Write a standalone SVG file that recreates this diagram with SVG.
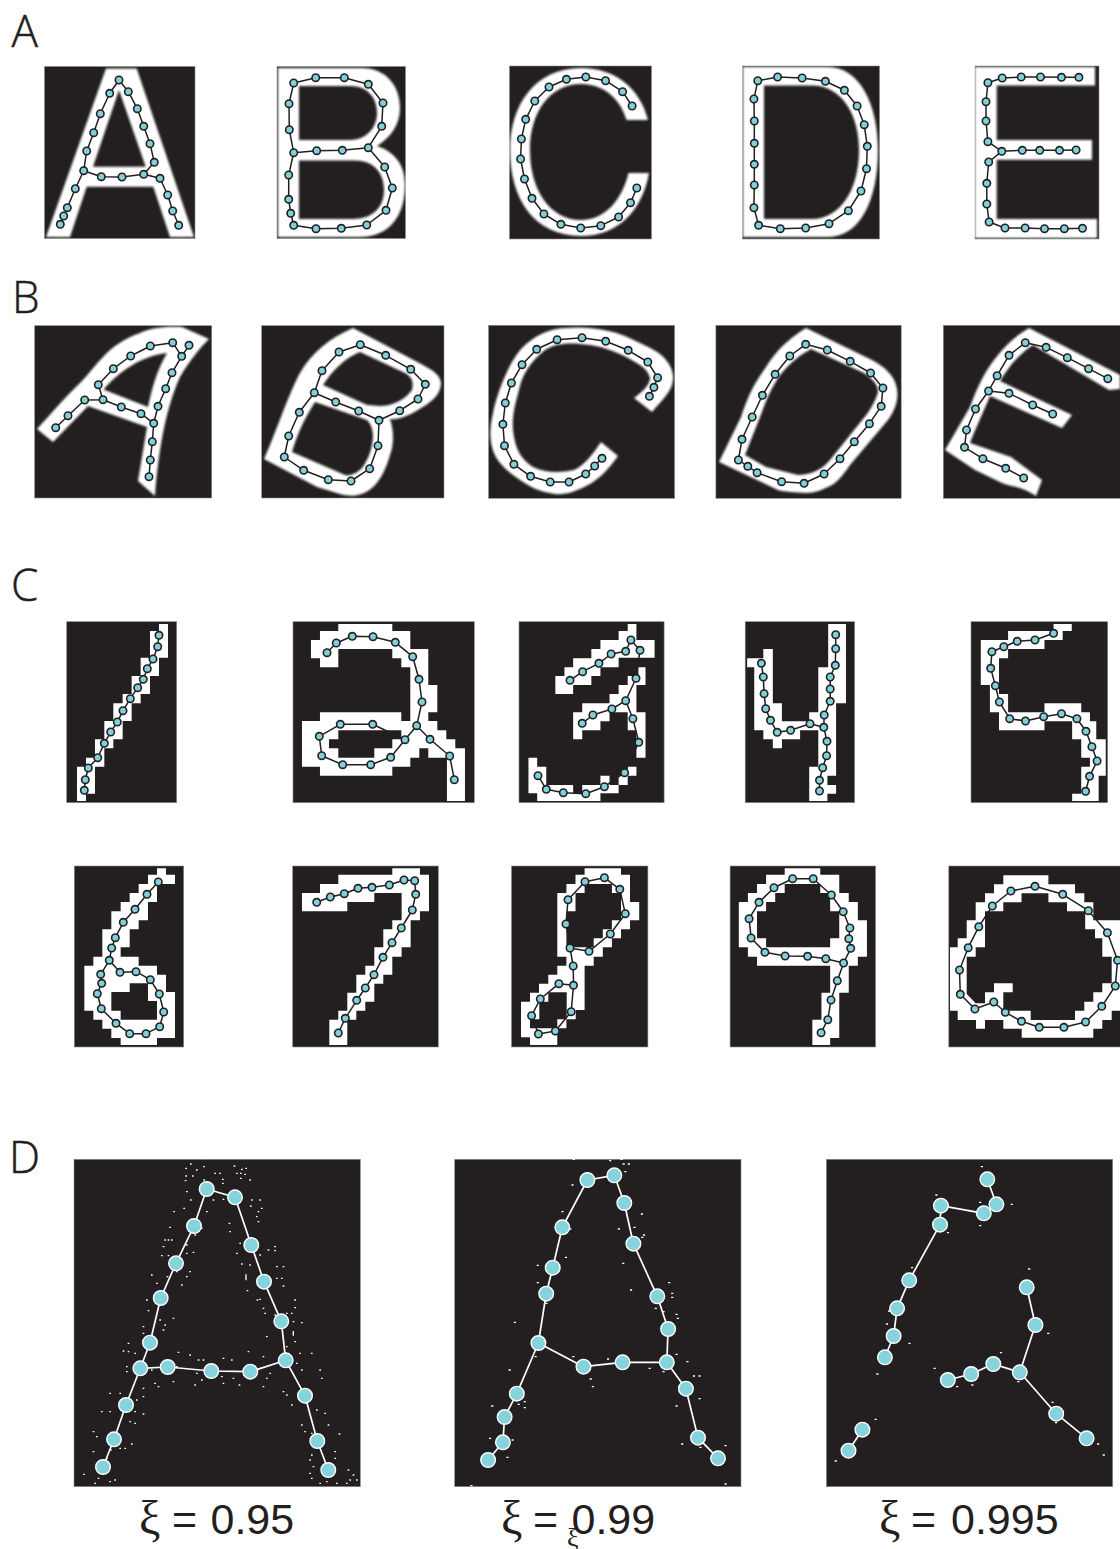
<svg xmlns="http://www.w3.org/2000/svg" width="1120" height="1549" viewBox="0 0 1120 1549">
<style>
.bg{fill:#231f20;stroke:#8a8a8a;stroke-width:.6}
.gl{fill:#fff;fill-rule:evenodd}
.soft{filter:url(#soft)}
.e{fill:none;stroke:#231f20;stroke-width:1.5;stroke-linejoin:round}
.ew{fill:none;stroke:#fff;stroke-width:1.7;stroke-linejoin:round}
.n{fill:#7fd0d8;stroke:#231f20;stroke-width:1.6;r:3.7px}
.m{fill:#85d3dc;stroke:#fff;stroke-width:1.4;r:7.3px}
.dots{fill:none;stroke:#fff;stroke-linecap:square}
.lab{font-family:"Open Sans","Liberation Sans",sans-serif;font-weight:300;font-size:44px;fill:#231f20;stroke:#231f20;stroke-width:.5}
.xi{font-family:"Liberation Sans",Arial,sans-serif;font-size:43px;fill:#231f20}
.gr{font-family:"Liberation Serif","Times New Roman",serif;font-size:48px}
.gs{font-family:"Liberation Serif","Times New Roman",serif;font-size:26px;fill:#231f20}
</style>
<defs><filter id="soft" x="-5%" y="-5%" width="110%" height="110%"><feGaussianBlur stdDeviation=".8"/></filter></defs>
<rect width="1120" height="1549" fill="#fff"/>

<g id="labels">
<text class="lab" x="11.5" y="47">A</text>
<text class="lab" x="12" y="313">B</text>
<text class="lab" x="11" y="601">C</text>
<text class="lab" x="9" y="1173">D</text>
<text class="xi"><tspan class="gr" x="139" y="1534">ξ</tspan><tspan x="172" y="1534">=</tspan><tspan x="210.5" y="1534">0.95</tspan></text>
<text class="xi"><tspan class="gr" x="501" y="1534">ξ</tspan><tspan x="533" y="1534">=</tspan><tspan x="571.5" y="1534">0.99</tspan></text>
<text class="gs" x="567" y="1546">ξ</text>
<text class="xi"><tspan class="gr" x="879" y="1534">ξ</tspan><tspan x="911" y="1534">=</tspan><tspan x="951" y="1534">0.995</tspan></text>
</g>

<g id="panels">
<g id="panel-a-a"><rect class="bg" x="44.5" y="66.5" width="150.5" height="172"/><path class="gl soft" d="M46,237 106,68.5 136.7,68.5 194,237 170,237 153.3,186.7 86.7,186.7 70,237ZM119,90 93,166.7 145.7,166.7Z"/></g>
<g id="panel-a-b"><rect class="bg" x="277" y="66.5" width="128.5" height="172"/><path class="gl soft" d="M278,68 H362 C385,68 400,85 400,108 C400,125 390,138 377,146 C395,152 405,165 405,185 C405,215 390,237 360,237 H278Z M299,86 H350 C368,86 377,98 377,113 C377,128 366,140 350,140 H299Z M299,160.5 H355 C373,160.5 384,172 384,190 C384,208 372,219 353,219 H299Z"/></g>
<g id="panel-a-c"><rect class="bg" x="509.5" y="66" width="142" height="173"/><path class="gl soft" d="M648,120 C640,88 615,68 581,68 C535,68 510,105 510,150 C510,200 535,236 581,236 C617,236 642,212 649,173 H628.5 C622,200 605,220 581,220 C550,220 530,190 530,150 C530,112 550,84 581,84 C603,84 620,98 626.5,120Z"/></g>
<g id="panel-a-d"><rect class="bg" x="742.5" y="66" width="137" height="173"/><path class="gl soft" d="M743,67 H828 C860,67 878,105 878,150 C878,200 860,237 828,237 H743Z M764,85.5 H812 C842,85.5 859,115 859,150 C859,190 840,219 812,219 H764Z"/></g>
<g id="panel-a-e"><rect class="bg" x="975" y="66" width="124" height="173"/><path class="gl soft" d="M975,67 H1095 V85.5 H996.7 V140 H1092 V159.7 H996.7 V219 H1097 V238 H975Z"/></g>

<g id="panel-b-a"><rect class="bg" x="34.7" y="325.7" width="177" height="172.3"/><path class="gl soft" d="M37,429 L53,442 L88,406 L147,427 L138,481 L155,496 C158,455 165,410 180,377 C190,360 200,348 209,339 L182,327 C165,326 150,328 140,333 C125,338 112,347 103,357 C95,365 88,375 80,383 C65,397 50,415 37,429Z M103.5,389.5 C118,373 140,356 167,353 C157,370 152,388 148,407Z"/></g>
<g id="panel-b-b"><rect class="bg" x="261.7" y="325.7" width="182.3" height="172.3"/><path class="gl soft" d="M264,459 C275,435 288,395 300,373 C312,352 330,338 353,328 L423,365 C432,370 441,375 441,384 C440,396 430,403 418,410 C408,416 398,420 390,419 C394,430 394,445 390,455 C386,470 378,485 368,491 C360,496 350,497 340,494 L317,487Z M323,385 C333,370 345,358 360,352 L405,373 C412,377 414,382 412,390 C405,400 392,406 380,406 L367,405Z M315,402 L367,420 C372,425 373,432 373,437 C372,450 368,460 362,468 C356,474 350,476 345,475 L292,452 C298,432 305,418 315,402Z"/></g>
<g id="panel-b-c"><rect class="bg" x="488.6" y="325.3" width="186" height="173"/><path class="gl soft" d="M601,442 L618,456 C608,470 598,480 588,485 C575,492 565,495 555,494 C540,492 530,487 520,480 C505,470 495,460 492,447 C488,430 492,420 494,408 C500,385 510,362 521,349 C535,335 548,329 565,328 C590,326 610,330 625,336 C640,343 652,348 660,354 C670,362 674,372 673,380 C672,392 660,402 652,412 L634,398 C642,392 650,385 650,378 C648,370 642,366 635,362 C620,353 605,347 590,345 C570,342 555,343 545,350 C530,362 522,375 519,390 C515,405 512,415 513,430 C515,450 522,460 533,467 C545,473 560,473 574,470 C585,465 592,455 601,442Z"/></g>
<g id="panel-b-d"><rect class="bg" x="715.9" y="325.3" width="185.3" height="173"/><path class="gl soft" d="M719,462 L741,417 C750,390 757,380 766,367 C780,345 795,335 806,328 L872,360 C885,367 893,375 896,385 C900,398 895,410 888,420 L850,465 C845,472 840,480 832,485 C822,490 815,493 806,493 C795,492 785,492 778,490Z M745,455 L762,412 C768,395 772,388 778,378 C788,364 800,355 811,349 L864,373 C874,380 878,385 878,392 C876,400 870,410 867,414 L830,460 C825,466 815,475 798,475 L766,467Z"/></g>
<g id="panel-b-e"><rect class="bg" x="943.3" y="325.3" width="177" height="173"/><path class="gl soft" d="M945,450 L970,407 C978,385 985,372 994,360 C1005,345 1017,335 1029,328 L1120,375 V389 L1109,390 L1033,345 C1025,350 1015,360 1011,365 C1006,372 1003,376 1000,381 L1072,415 L1062,428 L990,396 C982,415 975,430 970,443 L1011,457 L1042,480 L1036,496 C1020,485 1010,487 1002,483 L975,470Z"/></g>

<g id="panel-c-1"><rect class="bg" x="66.7" y="621.7" width="110" height="181"/><path class="gl" transform="translate(50 610) scale(.3333)" d="M327 42 354 42 354 143 327 143 327 198 300 198 300 252 272 252 272 280 245 280 245 333 218 333 218 388 190 388 190 415 163 415 163 470 135 470 135 551 108 551 108 573 81 573 81 470 108 470 108 443 135 443 135 388 163 388 163 333 190 333 190 280 218 280 218 252 245 252 245 198 272 198 272 143 300 143 300 63 327 63Z"/></g>
<g id="panel-c-2"><rect class="bg" x="293" y="621.7" width="181.3" height="181"/><path class="gl" transform="translate(50 610) scale(.3333)" d="M865 42 1027 42 1027 63 1081 63 1081 117 1135 117 1135 225 1162 225 1162 307 1135 307 1135 333 1162 333 1162 361 1189 361 1189 388 1216 388 1216 415 1245 415 1245 573 1191 573 1191 443 1135 443 1135 415 1108 415 1108 443 1081 443 1081 470 1027 470 1027 497 810 497 810 470 756 470 756 333 810 333 810 307 1054 307 1054 333 1081 333 1081 172 1054 172 1054 145 1027 145 1027 117 865 117 865 172 810 172 810 145 783 145 783 90 810 90 810 63 865 63Z M865 361 1054 361 1054 388 1027 388 1027 415 973 415 973 443 865 443 865 415 837 415 837 388 865 388Z"/></g>
<g id="panel-c-3"><rect class="bg" x="519" y="621.7" width="145.1" height="181"/><path class="gl" transform="translate(500 610) scale(.3954 .3333)" d="M323 42 345 42 345 90 391 90 391 143 300 143 300 172 254 172 254 198 231 198 231 225 185 225 185 252 140 252 140 198 163 198 163 172 185 172 185 145 231 145 231 117 254 117 254 90 300 90 300 63 323 63Z M350 172 368 172 368 225 345 225 345 307 368 307 368 443 345 443 345 361 323 361 323 307 277 307 277 334 254 334 254 361 208 361 208 388 185 388 185 307 208 307 208 280 277 280 277 252 300 252 300 225 323 225 323 198 350 198Z M72 443 94 443 94 470 117 470 117 525 185 525 185 550 208 550 208 525 254 525 254 497 277 497 277 525 300 525 300 497 323 497 323 470 345 470 345 497 323 497 323 525 300 525 300 550 254 550 254 573 94 573 94 550 72 550Z"/></g>
<g id="panel-c-4"><rect class="bg" x="745.2" y="621.7" width="109.5" height="181"/><path class="gl" transform="translate(500 610) scale(.3954 .3333)" d="M830 42 875 42 875 280 850 280 850 497 828 497 828 525 850 525 850 551 828 551 828 573 782 573 782 470 805 470 805 361 759 361 759 388 713 388 713 415 690 415 690 388 666 388 666 361 643 361 643 172 625 172 625 145 666 145 666 117 690 117 690 280 713 280 713 334 782 334 782 307 805 307 805 172 830 172Z"/></g>
<g id="panel-c-5"><rect class="bg" x="971" y="621.7" width="136.7" height="181"/><path class="gl" transform="translate(500 610) scale(.3954 .3333)" d="M1400 42 1446 42 1446 63 1423 63 1423 90 1377 90 1377 117 1285 117 1285 145 1262 145 1262 252 1285 252 1285 307 1377 307 1377 280 1470 280 1470 307 1492 307 1492 334 1508 334 1508 388 1532 388 1532 497 1514 497 1514 573 1447 573 1447 551 1470 551 1470 470 1492 470 1492 443 1470 443 1470 388 1447 388 1447 334 1377 334 1377 361 1262 361 1262 307 1239 307 1239 225 1216 225 1216 90 1285 90 1285 63 1400 63Z"/></g>

<g id="panel-c-6"><rect class="bg" x="74.3" y="866" width="109.4" height="181"/><path class="gl" transform="translate(60 855) scale(.3333)" d="M291 40 318 40 318 59 345 59 345 87 291 87 291 141 264 141 264 196 236 196 236 223 209 223 209 277 182 277 182 305 236 305 236 332 291 332 291 359 318 359 318 411 345 411 345 549 291 549 291 570 182 570 182 549 154 549 154 521 127 521 127 494 100 494 100 467 73 467 73 332 100 332 100 305 127 305 127 223 154 223 154 169 182 169 182 141 209 141 209 114 236 114 236 87 264 87 264 59 291 59Z M154 411 209 411 209 385 264 385 264 438 291 438 291 494 182 494 182 467 154 467Z"/></g>
<g id="panel-c-7"><rect class="bg" x="292.7" y="866" width="145.6" height="181"/><path class="gl" transform="translate(60 855) scale(.3333)" d="M997 40 1080 40 1080 59 1107 59 1107 169 1080 169 1080 196 1052 196 1052 277 1025 277 1025 305 997 305 997 359 970 359 970 386 943 386 943 440 916 440 916 467 889 467 889 494 862 494 862 570 808 570 808 494 835 494 835 467 862 467 862 413 889 413 889 359 916 359 916 332 943 332 943 277 970 277 970 223 997 223 997 196 1025 196 1025 114 943 114 943 141 862 141 862 169 726 169 726 114 780 114 780 87 835 87 835 59 997 59Z"/></g>
<g id="panel-c-8"><rect class="bg" x="511.5" y="866" width="136.4" height="181"/><path class="gl" d="M584.6 868.3H621V874.7H630V902H639.2V920.3H630V929.3H621V938.3H611.9V947.3H602.8V956.7H593.7V965.7H584.6V1010H575.7V1019.3H566.4V1028.3H557.3V1045H530V1037.3H521V1001.7H530V992.7H539V983.7H548.3V974.7H557.3V965.7H566.4V956.7H557.3V893H566.4V884H575.5V874.7H584.6Z M584.6 884H611.9V893H621V920.3H611.9V929.3H602.8V938.3H593.7V947.3H566.4V911.3H575.5V893H584.6Z M548.3 992.3H566.7V1019.3H557.3V1028.3H530V1019.3H539.3V1001.7H548.3Z"/></g>
<g id="panel-c-9"><rect class="bg" x="730.1" y="866" width="145.5" height="181"/><path class="gl" transform="translate(500 855) scale(.3954 .3333)" d="M720 40 810 40 810 59 858 59 858 114 882 114 882 141 905 141 905 196 928 196 928 305 905 305 905 332 882 332 882 413 858 413 858 549 835 549 835 570 790 570 790 494 813 494 813 413 835 413 835 332 650 332 650 305 627 305 627 277 604 277 604 141 627 141 627 114 650 114 650 87 673 87 673 59 720 59Z M696 114 720 114 720 87 810 87 810 114 835 114 835 169 858 169 858 250 835 250 835 277 673 277 673 250 650 250 650 169 673 169 673 141 696 141Z"/></g>
<g id="panel-c-10"><rect class="bg" x="948.8" y="866" width="172" height="181"/><path class="gl" d="M950 947.3H957.7V938.3H966.7V920.3H975.7V902.3H985V893.3H994V884.3H1003.3V875.3H1048.4V884.3H1075V893.3H1084.3V902.3H1093.3V920.3H1120V1010.7H1111.7V1020H1102.3V1028.7H1093.3V1037.7H1021.7V1028.7H1003.3V1020H985V1028.7H976V1020H957.7V1010.7H950Z M1021.5 893.3H1048.4V902.3H1067V911.3H1085.2V929.3H1095V938.3H1102.3V956.7H1111.7V983.3H1102.3V992.3H1093.3V1001.7H1084.3V1010.7H1075V1020H1030.7V1010.7H1003.3V992.3H1012.7V983.3H994V992.3H985V1003.3H975.7L966.7 994V956.7H975.7V947.3H985V911.3H1003.3V902.3H1021.5Z"/></g>

<g id="panel-d-1"><rect class="bg" x="74" y="1159.3" width="286.3" height="327.4"/>
<path class="dots" stroke-width="4" transform="translate(0 1140) scale(.3333)" d="M572 72h1M612 80h1M590 90h1M558 85h1M703 78h1M738 85h1M725 88h1M710 100h1M722 100h1M735 103h1M660 100h1M645 100h1M558 108h1M578 108h1M556 122h1M612 120h1M668 118h1M668 130h1M750 120h1M722 115h1M560 155h1M572 180h1M640 180h1M670 178h1M780 180h1M755 180h1M752 198h1M785 205h1M775 215h1M770 230h1M775 245h1M620 215h1M552 205h1M522 215h1M510 262h1M605 265h1M585 285h1M688 250h1M690 275h1M495 300h1M505 300h1M515 300h1M560 315h1M490 320h1M720 310h1M710 340h1M725 372h1M750 375h1M805 330h1M825 320h1M825 332h1M780 345h1M485 347h1M505 347h1M560 340h1M580 337h1M545 375h1M530 395h1M570 395h1M560 410h1M545 435h1M455 405h1M470 430h1M502 410h1M738 405v14M830 380h1M850 380h1M830 415h1M845 415h1M850 438h1M742 452h1M772 480h1M780 478h1M885 480h1M885 503h1M790 505h1M795 520h1M825 525h1M860 520h1M875 520h1M440 480h1M445 512h1M480 540h1M520 535h1M495 555h1M490 570h1M880 545h1M905 548h1M880 575v10M885 605h1M800 590h1M385 610h1M370 633h1M385 635h1M405 640h1M430 560h1M430 580h1M440 625h1M535 637h1M570 645h1M595 660h1M610 660h1M670 655h1M695 660h1M745 635h1M790 650h1M860 620h1M900 640h1M935 640h1M890 670h1M905 690h1M960 690h1M965 715h1M380 680h1M380 695h1M455 690h1M530 680h1M590 700h1M605 720h1M665 710h1M670 730h1M700 715h1M718 735h1M745 715h1M800 715h1M790 740h1M430 745h1M465 730h1M475 740h1M520 725h1M585 735h1M810 700h1M850 755h1M860 765h1M875 795h1M430 770h1M330 760h1M360 760h1M410 780h1M405 815h1M330 815h1M305 815h1M430 822h1M390 845h1M405 850h1M280 875h1M290 890h1M905 855h1M915 875h1M935 880h1M950 810h1M975 820h1M985 855h1M1018 882h1M360 925h1M395 912h1M375 925h1M332 930h1M280 935h1M320 955h1M935 945h1M930 960h1M1005 935h1M1005 955h1M940 980h1M930 1000h1M1045 990h1M1060 1005h1M1050 1020h1M1070 1020h1M1040 1030h1M980 1025h1M960 1030h1M935 1015h1M252 1003h1M295 1015h1M345 1020h1M285 1030h1M330 1025h1M1010 1030h1M608 56h1"/></g>
<g id="panel-d-2"><rect class="bg" x="454.7" y="1159.3" width="286.3" height="327.4"/>
<path class="dots" stroke-width="4" transform="translate(440 1140) scale(.4337 .3333)" d="M308 58h1M418 58h1M392 62h1M423 72h1M435 72h1M427 95h1M305 135h1M282 215h1M465 222h1M412 267h1M448 262h1M470 285h1M300 267h1M466 292h1M290 352h1M422 370h1M225 376h1M225 428h1M440 450h1M528 428h1M535 460h1M535 472h1M497 505h1M515 515h1M545 523h1M548 535h1M172 547h1M245 490h1M160 690h1M220 650h1M307 650h1M387 657h1M347 717h1M352 740h1M483 685h1M545 643h1M570 665h1M515 695h1M585 708h1M598 708h1M598 776h1M545 798h1M120 798h1M195 785h1M195 803h1M181 793h1M115 895h1M167 900h1M155 952h1M558 912h1M658 917h1M600 922h1M72 1037h1M658 1032h1"/></g>
<g id="panel-d-3"><rect class="bg" x="826.4" y="1159.3" width="286.3" height="327.4"/>
<path class="dots" stroke-width="4" transform="translate(440 1140) scale(.4337 .3333)" d="M1249 80h1M1144 165h1M1245 187h1M1318 193h1M1245 257h1M1171 278h1M1088 383h1M1358 387h1M1035 513h1M1030 552h1M1082 610h1M1402 580h1M1293 638h1M1140 685h1M1008 702h1M1192 740h1M1227 735h1M1333 725h1M1412 787h1M1420 848h1M1004 838h1M912 963h1M1517 912h1M1530 945h1"/></g>
</g>

<g id="connectors">
<polyline class="e" points="60.3,224.3 63.7,216 67.3,207.7 75.3,188.7 83.7,170.7 86.7,151 93.7,132.7 100.3,113.7 109.7,93.3 119,80 128.3,91.7 137.3,108.7 143.7,126.3 150,143.7 154.3,162.3 143.7,174.3"/>
<polyline class="e" points="83.7,170.7 101.3,176.7 122,177 143.7,174.3 160,178.3 167.7,195 172.7,211 178.7,225.3"/>
<polyline class="e" points="293.7,152.7 289.3,129.7 289,103.7 293.7,83 315.7,77.7 344.3,77.7 368.3,84.3 383,103 381.7,126.3 368.3,147.7 342.3,150.3 316.7,150.7 293.7,152.7 288.7,175 288.7,199.3 290.7,213.3 293.7,225.3 316,228.7 341.3,228.3 366.7,225 386,210.3 392.3,188 384.7,167 368.3,147.7"/>
<polyline class="e" points="632.1,106 622.6,91.7 605.6,80.7 585.8,77 566.4,79.3 549,87 534.8,101 525.7,119.3 521.4,139 520.6,159 524.5,179 532,198.3 543.9,214 560.9,224.3 580.7,228 600.8,225.7 618.6,217 630.5,202.7 636.8,188"/>
<polygon class="e" points="757.8,80.7 777.6,77 802.1,78 825.4,81.3 844.4,90.3 857.1,106 864.2,124.7 867.3,146.3 866.5,168.7 861,191 848.4,210.7 829,223.7 805.7,228 780.3,228.7 758.6,225.3 753.9,207.7 754.3,185 754.3,164.3 754.3,143.3 754.3,121 753.9,99"/>
<polyline class="e" points="1078.9,77.3 1061.5,77.3 1040.5,77 1021.2,77 1002.2,78 987.9,82.7 986,101.7 986,121 987.9,141.7 1001.8,151.3 1022.3,150.3 1039.7,150.3 1059.5,150.3 1076.1,150"/>
<polyline class="e" points="1001.8,151.3 988.7,162 986.8,183.3 986.8,204 989.1,222 1005,228 1025.1,228 1044.5,228.7 1064.3,228.7 1082.5,228.3"/>

<polyline class="e" points="55.7,427.7 68,415.7 84.7,400 103,399.7 98.3,384.7 113.3,368.7 130.7,356 150.3,346 172.7,342.7 181.7,356.3 172,372.7 165.7,388.7 158,406.3 153.7,423.3 152.3,441.7 150.3,460 149,476.7"/>
<polyline class="e" points="181.7,356.3 189,345.3"/>
<polyline class="e" points="103,399.7 121.3,407 141,413.7 153.7,423.3"/>
<polyline class="e" points="314.3,392.7 322,370.7 339,352 360.3,344.7 385.7,355.3 410.7,369.3 425.3,384.3 418,399 399.7,410.7 379,420.3 358.7,411 335.7,402 314.3,392.7 299.3,412.3 288.7,436 284.3,457 303.7,470.3 328.3,479.7 351,481 369.7,468.7 378,445.7 379,420.3"/>
<polyline class="e" points="602,458.3 594.7,466 585.7,474 569,482 550.2,482 530.6,476.3 513.9,464.3 504.5,445.7 502.9,424.3 505.3,403 511.4,383 522,364.7 536.7,349.3 557.1,339.7 582,337.7 605.7,341.3 628.2,350.3 647.8,362 657.6,377.7 653.9,387.3 649.4,396.3"/>
<polygon class="e" points="738.4,460 747.8,466.3 757.1,472.7 781.6,481.7 804.1,483.3 824.1,474 840,458.7 854.3,441.7 869.4,423.7 881.2,406.3 882.9,388 870.6,373 850.2,361.3 827.3,350 805.7,344.3 789.8,356 775.1,374.3 762.4,395.3 752.2,417 742,439.3"/>
<polyline class="e" points="1107.8,378.7 1088.6,368.7 1067.3,357.7 1046.1,347.3 1025.3,342.7 1009,355.3 997.1,375.7 988.6,391 975.5,409 966.5,430 964.5,447.3 982.9,458.7 1005.7,468.3 1023.7,478"/>
<polyline class="e" points="988.6,391 1009,393.3 1032.7,405 1052.7,414"/>

<polyline class="e" points="159,635.3 157.7,646.7 153,659 147.3,668.7 143.3,679.3 137.7,687.7 130.3,698.7 123,710.7 117.3,722 110.7,732 104.3,743.3 97.7,757.7 88.3,768 85.3,779.7 84.3,790.3"/>
<polyline class="e" points="327,652.7 336.3,643 352.3,636.3 373,636.7 395.3,642.3 412.7,656.7 419,679.3 422,702 416.7,725.7 405,739.7 390.7,757.3 370.7,764.7 342.7,764.7 321.7,755.7 319.3,736.3 340.3,724.3 372.7,724.3 405,739.7"/>
<polyline class="e" points="416.7,725.7 430,739.3 449.7,756 454.3,779.7"/>
<polyline class="e" points="570,680.3 582.6,671.7 598.9,663.3 611.1,654 625.7,651.3 630.9,640 640,650.3 636,678.3 625.7,700.7 611.9,709 592.9,715 582.2,723.3"/>
<polyline class="e" points="625.7,700.7 632.9,718.7 638.8,742.3 624.6,772.7 604.4,786.7 585.8,793.7 563.3,792.7 546.3,789.3 538,775.7"/>
<polyline class="e" points="835.7,634.7 835.7,648.7 835.3,665.3 830.2,677 830.2,689 830.2,701.3 824.2,715 823.8,727.3 827,741.3 826.6,755.7 822.7,767.7 819.5,780.3 819.5,791"/>
<polyline class="e" points="823.8,727.3 810,723.7 790.6,730.3 777.2,732.3 770.5,720.3 765.7,708.7 764.1,693.7 763.3,677 761.4,663.3"/>
<polyline class="e" points="1053.6,633.3 1035,640 1017.2,641.3 1003.8,646.7 991.9,651.7 990.7,668.3 995.4,685.7 999.4,702 1009.7,718.7 1025.5,721 1043.7,716.7 1061.5,713.7 1076.9,718.7 1086,731.3 1091.9,746.7 1097.1,761 1089.6,776.3 1085.6,791.3"/>

<polyline class="e" points="158.3,882 147,894.3 135,909.3 123.3,922.3 115.3,937.7 111.7,948 109.3,960.3 100.7,974.3 101.7,983.3 97.3,993.7 101.3,1008.7 116,1023.3 129.7,1033.7 146,1033.7 159.7,1026.7 163.7,1012 159.3,994 150.3,979.7 136,971.7 120,972.3 109.3,960.3"/>
<polyline class="e" points="316.7,902.3 330.3,897 344.3,893.7 358,888.3 372,887.3 389.3,885 404,880 414.7,880.7 415.7,894.3 412.3,910 401.3,928 392,942.7 383,957.3 374,974.7 365.3,988 356.7,1000.3 345.3,1018.3 338.3,1033"/>
<polyline class="e" points="570,948 573.2,966 573.5,985.3 571.2,1011.7 555.4,1031 538.4,1034 531.6,1015.7 540.3,999 558.9,983.7 573.5,985.3"/>
<polygon class="e" points="570,948 589,951.3 610.3,934 625.3,913.7 619.8,889.3 604.4,877.7 585,881.7 568,899.7 566,924"/>
<polyline class="e" points="821.1,1032.7 827.8,1019.7 831,1000 837.3,980.7 843.6,963 850.7,948.3 848.8,938.7 849.9,928 843.2,911.7 831.4,895 813.2,878.7 792.6,878.7 774,887.7 759,902.3 749.1,918.7 751.1,938 764.9,952.3 785.1,956 807.6,956.3 825.8,958.7 843.6,963"/>
<polygon class="e" points="974.9,1009 960.3,994.3 959.5,970 968.2,947.7 978.8,926.7 992.3,906 1010.9,891 1035,886.3 1062.7,894.3 1088.4,910.7 1107.4,932.7 1117.6,960.3 1115.3,986 1101.8,1006.3 1085.6,1022 1063.9,1027.3 1039.3,1027.3 1021.5,1021.3 1005.3,1012.3 993.8,1002"/>

<polyline class="ew" points="103,1467 114,1439.3 126,1405 140.3,1368.3 150,1342.7 160.7,1298 176,1263.3 194,1226 206.7,1189 235,1197.3 251.3,1245 264,1281.7 281.3,1321.3 285.7,1360.3 305,1395.7 317.3,1441 328.3,1470"/>
<polyline class="ew" points="140.3,1368.3 167.7,1367 211.3,1371 250.3,1371.7 285.7,1360.3"/>
<polyline class="ew" points="488.1,1460 502.9,1442.3 504.6,1417 516.8,1393.7 538.4,1343 546.2,1293.7 552.7,1267.7 562.3,1227.3 587.4,1180 614.3,1175.3 624.3,1203 633.4,1243.7 657.3,1296.3 668.1,1329 666.8,1362.3 685.9,1388.7 698,1437.7 718,1458.3"/>
<polyline class="ew" points="538.4,1343 583.5,1366.7 622.6,1362.3 666.8,1362.3"/>
<polyline class="ew" points="987.3,1179.3 996.4,1204.3 983.8,1213.3 940.9,1205.7 940,1224.7 909.2,1280.3 897.1,1308.3 893.6,1336 884.9,1357.3"/>
<polyline class="ew" points="1026.7,1287.3 1035.4,1325 1019.8,1372.3 1056.2,1413.7 1086.6,1438.3"/>
<polyline class="ew" points="1019.8,1372.3 993.3,1364 971.2,1374 947.8,1380"/>
<polyline class="ew" points="862.4,1429.7 848.5,1450.7"/>
</g>

<g id="nodes">
<g id="nodes-a-a"><circle class="n" cx="60.3" cy="224.3"/><circle class="n" cx="63.7" cy="216"/><circle class="n" cx="67.3" cy="207.7"/><circle class="n" cx="75.3" cy="188.7"/><circle class="n" cx="83.7" cy="170.7"/><circle class="n" cx="86.7" cy="151"/><circle class="n" cx="93.7" cy="132.7"/><circle class="n" cx="100.3" cy="113.7"/><circle class="n" cx="109.7" cy="93.3"/><circle class="n" cx="119" cy="80"/><circle class="n" cx="128.3" cy="91.7"/><circle class="n" cx="137.3" cy="108.7"/><circle class="n" cx="143.7" cy="126.3"/><circle class="n" cx="150" cy="143.7"/><circle class="n" cx="154.3" cy="162.3"/><circle class="n" cx="143.7" cy="174.3"/><circle class="n" cx="122" cy="177"/><circle class="n" cx="101.3" cy="176.7"/><circle class="n" cx="160" cy="178.3"/><circle class="n" cx="167.7" cy="195"/><circle class="n" cx="172.7" cy="211"/><circle class="n" cx="178.7" cy="225.3"/></g>
<g id="nodes-a-b"><circle class="n" cx="293.7" cy="83"/><circle class="n" cx="315.7" cy="77.7"/><circle class="n" cx="344.3" cy="77.7"/><circle class="n" cx="368.3" cy="84.3"/><circle class="n" cx="383" cy="103"/><circle class="n" cx="381.7" cy="126.3"/><circle class="n" cx="368.3" cy="147.7"/><circle class="n" cx="342.3" cy="150.3"/><circle class="n" cx="316.7" cy="150.7"/><circle class="n" cx="293.7" cy="152.7"/><circle class="n" cx="289" cy="103.7"/><circle class="n" cx="289.3" cy="129.7"/><circle class="n" cx="288.7" cy="175"/><circle class="n" cx="288.7" cy="199.3"/><circle class="n" cx="290.7" cy="213.3"/><circle class="n" cx="293.7" cy="225.3"/><circle class="n" cx="316" cy="228.7"/><circle class="n" cx="341.3" cy="228.3"/><circle class="n" cx="366.7" cy="225"/><circle class="n" cx="386" cy="210.3"/><circle class="n" cx="392.3" cy="188"/><circle class="n" cx="384.7" cy="167"/></g>
<g id="nodes-a-c"><circle class="n" cx="632.1" cy="106"/><circle class="n" cx="622.6" cy="91.7"/><circle class="n" cx="605.6" cy="80.7"/><circle class="n" cx="585.8" cy="77"/><circle class="n" cx="566.4" cy="79.3"/><circle class="n" cx="549" cy="87"/><circle class="n" cx="534.8" cy="101"/><circle class="n" cx="525.7" cy="119.3"/><circle class="n" cx="521.4" cy="139"/><circle class="n" cx="520.6" cy="159"/><circle class="n" cx="524.5" cy="179"/><circle class="n" cx="532" cy="198.3"/><circle class="n" cx="543.9" cy="214"/><circle class="n" cx="560.9" cy="224.3"/><circle class="n" cx="580.7" cy="228"/><circle class="n" cx="600.8" cy="225.7"/><circle class="n" cx="618.6" cy="217"/><circle class="n" cx="630.5" cy="202.7"/><circle class="n" cx="636.8" cy="188"/></g>
<g id="nodes-a-d"><circle class="n" cx="757.8" cy="80.7"/><circle class="n" cx="777.6" cy="77"/><circle class="n" cx="802.1" cy="78"/><circle class="n" cx="825.4" cy="81.3"/><circle class="n" cx="844.4" cy="90.3"/><circle class="n" cx="857.1" cy="106"/><circle class="n" cx="864.2" cy="124.7"/><circle class="n" cx="867.3" cy="146.3"/><circle class="n" cx="866.5" cy="168.7"/><circle class="n" cx="861" cy="191"/><circle class="n" cx="848.4" cy="210.7"/><circle class="n" cx="829" cy="223.7"/><circle class="n" cx="805.7" cy="228"/><circle class="n" cx="780.3" cy="228.7"/><circle class="n" cx="758.6" cy="225.3"/><circle class="n" cx="753.9" cy="207.7"/><circle class="n" cx="754.3" cy="185"/><circle class="n" cx="754.3" cy="164.3"/><circle class="n" cx="754.3" cy="143.3"/><circle class="n" cx="754.3" cy="121"/><circle class="n" cx="753.9" cy="99"/></g>
<g id="nodes-a-e"><circle class="n" cx="1078.9" cy="77.3"/><circle class="n" cx="1061.5" cy="77.3"/><circle class="n" cx="1040.5" cy="77"/><circle class="n" cx="1021.2" cy="77"/><circle class="n" cx="1002.2" cy="78"/><circle class="n" cx="987.9" cy="82.7"/><circle class="n" cx="986" cy="101.7"/><circle class="n" cx="986" cy="121"/><circle class="n" cx="987.9" cy="141.7"/><circle class="n" cx="1001.8" cy="151.3"/><circle class="n" cx="1022.3" cy="150.3"/><circle class="n" cx="1039.7" cy="150.3"/><circle class="n" cx="1059.5" cy="150.3"/><circle class="n" cx="1076.1" cy="150"/><circle class="n" cx="988.7" cy="162"/><circle class="n" cx="986.8" cy="183.3"/><circle class="n" cx="986.8" cy="204"/><circle class="n" cx="989.1" cy="222"/><circle class="n" cx="1005" cy="228"/><circle class="n" cx="1025.1" cy="228"/><circle class="n" cx="1044.5" cy="228.7"/><circle class="n" cx="1064.3" cy="228.7"/><circle class="n" cx="1082.5" cy="228.3"/></g>

<g id="nodes-b-a"><circle class="n" cx="55.7" cy="427.7"/><circle class="n" cx="68" cy="415.7"/><circle class="n" cx="84.7" cy="400"/><circle class="n" cx="103" cy="399.7"/><circle class="n" cx="98.3" cy="384.7"/><circle class="n" cx="113.3" cy="368.7"/><circle class="n" cx="130.7" cy="356"/><circle class="n" cx="150.3" cy="346"/><circle class="n" cx="172.7" cy="342.7"/><circle class="n" cx="181.7" cy="356.3"/><circle class="n" cx="189" cy="345.3"/><circle class="n" cx="172" cy="372.7"/><circle class="n" cx="165.7" cy="388.7"/><circle class="n" cx="158" cy="406.3"/><circle class="n" cx="153.7" cy="423.3"/><circle class="n" cx="141" cy="413.7"/><circle class="n" cx="121.3" cy="407"/><circle class="n" cx="152.3" cy="441.7"/><circle class="n" cx="150.3" cy="460"/><circle class="n" cx="149" cy="476.7"/></g>
<g id="nodes-b-b"><circle class="n" cx="284.3" cy="457"/><circle class="n" cx="288.7" cy="436"/><circle class="n" cx="299.3" cy="412.3"/><circle class="n" cx="314.3" cy="392.7"/><circle class="n" cx="322" cy="370.7"/><circle class="n" cx="339" cy="352"/><circle class="n" cx="360.3" cy="344.7"/><circle class="n" cx="385.7" cy="355.3"/><circle class="n" cx="410.7" cy="369.3"/><circle class="n" cx="425.3" cy="384.3"/><circle class="n" cx="418" cy="399"/><circle class="n" cx="399.7" cy="410.7"/><circle class="n" cx="379" cy="420.3"/><circle class="n" cx="358.7" cy="411"/><circle class="n" cx="335.7" cy="402"/><circle class="n" cx="378" cy="445.7"/><circle class="n" cx="369.7" cy="468.7"/><circle class="n" cx="351" cy="481"/><circle class="n" cx="328.3" cy="479.7"/><circle class="n" cx="303.7" cy="470.3"/></g>
<g id="nodes-b-c"><circle class="n" cx="602" cy="458.3"/><circle class="n" cx="594.7" cy="466"/><circle class="n" cx="585.7" cy="474"/><circle class="n" cx="569" cy="482"/><circle class="n" cx="550.2" cy="482"/><circle class="n" cx="530.6" cy="476.3"/><circle class="n" cx="513.9" cy="464.3"/><circle class="n" cx="504.5" cy="445.7"/><circle class="n" cx="502.9" cy="424.3"/><circle class="n" cx="505.3" cy="403"/><circle class="n" cx="511.4" cy="383"/><circle class="n" cx="522" cy="364.7"/><circle class="n" cx="536.7" cy="349.3"/><circle class="n" cx="557.1" cy="339.7"/><circle class="n" cx="582" cy="337.7"/><circle class="n" cx="605.7" cy="341.3"/><circle class="n" cx="628.2" cy="350.3"/><circle class="n" cx="647.8" cy="362"/><circle class="n" cx="657.6" cy="377.7"/><circle class="n" cx="653.9" cy="387.3"/><circle class="n" cx="649.4" cy="396.3"/></g>
<g id="nodes-b-d"><circle class="n" cx="738.4" cy="460"/><circle class="n" cx="747.8" cy="466.3"/><circle class="n" cx="757.1" cy="472.7"/><circle class="n" cx="781.6" cy="481.7"/><circle class="n" cx="804.1" cy="483.3"/><circle class="n" cx="824.1" cy="474"/><circle class="n" cx="840" cy="458.7"/><circle class="n" cx="854.3" cy="441.7"/><circle class="n" cx="869.4" cy="423.7"/><circle class="n" cx="881.2" cy="406.3"/><circle class="n" cx="882.9" cy="388"/><circle class="n" cx="870.6" cy="373"/><circle class="n" cx="850.2" cy="361.3"/><circle class="n" cx="827.3" cy="350"/><circle class="n" cx="805.7" cy="344.3"/><circle class="n" cx="789.8" cy="356"/><circle class="n" cx="775.1" cy="374.3"/><circle class="n" cx="762.4" cy="395.3"/><circle class="n" cx="752.2" cy="417"/><circle class="n" cx="742" cy="439.3"/></g>
<g id="nodes-b-e"><circle class="n" cx="1107.8" cy="378.7"/><circle class="n" cx="1088.6" cy="368.7"/><circle class="n" cx="1067.3" cy="357.7"/><circle class="n" cx="1046.1" cy="347.3"/><circle class="n" cx="1025.3" cy="342.7"/><circle class="n" cx="1009" cy="355.3"/><circle class="n" cx="997.1" cy="375.7"/><circle class="n" cx="988.6" cy="391"/><circle class="n" cx="1009" cy="393.3"/><circle class="n" cx="1032.7" cy="405"/><circle class="n" cx="1052.7" cy="414"/><circle class="n" cx="975.5" cy="409"/><circle class="n" cx="966.5" cy="430"/><circle class="n" cx="964.5" cy="447.3"/><circle class="n" cx="982.9" cy="458.7"/><circle class="n" cx="1005.7" cy="468.3"/><circle class="n" cx="1023.7" cy="478"/></g>

<g id="nodes-c-1"><circle class="n" cx="159" cy="635.3"/><circle class="n" cx="157.7" cy="646.7"/><circle class="n" cx="153" cy="659"/><circle class="n" cx="147.3" cy="668.7"/><circle class="n" cx="143.3" cy="679.3"/><circle class="n" cx="137.7" cy="687.7"/><circle class="n" cx="130.3" cy="698.7"/><circle class="n" cx="123" cy="710.7"/><circle class="n" cx="117.3" cy="722"/><circle class="n" cx="110.7" cy="732"/><circle class="n" cx="104.3" cy="743.3"/><circle class="n" cx="97.7" cy="757.7"/><circle class="n" cx="88.3" cy="768"/><circle class="n" cx="85.3" cy="779.7"/><circle class="n" cx="84.3" cy="790.3"/></g>
<g id="nodes-c-2"><circle class="n" cx="327" cy="652.7"/><circle class="n" cx="336.3" cy="643"/><circle class="n" cx="352.3" cy="636.3"/><circle class="n" cx="373" cy="636.7"/><circle class="n" cx="395.3" cy="642.3"/><circle class="n" cx="412.7" cy="656.7"/><circle class="n" cx="419" cy="679.3"/><circle class="n" cx="422" cy="702"/><circle class="n" cx="416.7" cy="725.7"/><circle class="n" cx="405" cy="739.7"/><circle class="n" cx="390.7" cy="757.3"/><circle class="n" cx="370.7" cy="764.7"/><circle class="n" cx="342.7" cy="764.7"/><circle class="n" cx="321.7" cy="755.7"/><circle class="n" cx="319.3" cy="736.3"/><circle class="n" cx="340.3" cy="724.3"/><circle class="n" cx="372.7" cy="724.3"/><circle class="n" cx="430" cy="739.3"/><circle class="n" cx="449.7" cy="756"/><circle class="n" cx="454.3" cy="779.7"/></g>
<g id="nodes-c-3"><circle class="n" cx="570" cy="680.3"/><circle class="n" cx="582.6" cy="671.7"/><circle class="n" cx="598.9" cy="663.3"/><circle class="n" cx="611.1" cy="654"/><circle class="n" cx="625.7" cy="651.3"/><circle class="n" cx="630.9" cy="640"/><circle class="n" cx="640" cy="650.3"/><circle class="n" cx="636" cy="678.3"/><circle class="n" cx="625.7" cy="700.7"/><circle class="n" cx="611.9" cy="709"/><circle class="n" cx="592.9" cy="715"/><circle class="n" cx="582.2" cy="723.3"/><circle class="n" cx="632.9" cy="718.7"/><circle class="n" cx="638.8" cy="742.3"/><circle class="n" cx="624.6" cy="772.7"/><circle class="n" cx="604.4" cy="786.7"/><circle class="n" cx="585.8" cy="793.7"/><circle class="n" cx="563.3" cy="792.7"/><circle class="n" cx="546.3" cy="789.3"/><circle class="n" cx="538" cy="775.7"/></g>
<g id="nodes-c-4"><circle class="n" cx="835.7" cy="634.7"/><circle class="n" cx="835.7" cy="648.7"/><circle class="n" cx="835.3" cy="665.3"/><circle class="n" cx="830.2" cy="677"/><circle class="n" cx="830.2" cy="689"/><circle class="n" cx="830.2" cy="701.3"/><circle class="n" cx="824.2" cy="715"/><circle class="n" cx="823.8" cy="727.3"/><circle class="n" cx="810" cy="723.7"/><circle class="n" cx="790.6" cy="730.3"/><circle class="n" cx="777.2" cy="732.3"/><circle class="n" cx="770.5" cy="720.3"/><circle class="n" cx="765.7" cy="708.7"/><circle class="n" cx="764.1" cy="693.7"/><circle class="n" cx="763.3" cy="677"/><circle class="n" cx="761.4" cy="663.3"/><circle class="n" cx="827" cy="741.3"/><circle class="n" cx="826.6" cy="755.7"/><circle class="n" cx="822.7" cy="767.7"/><circle class="n" cx="819.5" cy="780.3"/><circle class="n" cx="819.5" cy="791"/></g>
<g id="nodes-c-5"><circle class="n" cx="1053.6" cy="633.3"/><circle class="n" cx="1035" cy="640"/><circle class="n" cx="1017.2" cy="641.3"/><circle class="n" cx="1003.8" cy="646.7"/><circle class="n" cx="991.9" cy="651.7"/><circle class="n" cx="990.7" cy="668.3"/><circle class="n" cx="995.4" cy="685.7"/><circle class="n" cx="999.4" cy="702"/><circle class="n" cx="1009.7" cy="718.7"/><circle class="n" cx="1025.5" cy="721"/><circle class="n" cx="1043.7" cy="716.7"/><circle class="n" cx="1061.5" cy="713.7"/><circle class="n" cx="1076.9" cy="718.7"/><circle class="n" cx="1086" cy="731.3"/><circle class="n" cx="1091.9" cy="746.7"/><circle class="n" cx="1097.1" cy="761"/><circle class="n" cx="1089.6" cy="776.3"/><circle class="n" cx="1085.6" cy="791.3"/></g>
<g id="nodes-c-6"><circle class="n" cx="158.3" cy="882"/><circle class="n" cx="147" cy="894.3"/><circle class="n" cx="135" cy="909.3"/><circle class="n" cx="123.3" cy="922.3"/><circle class="n" cx="115.3" cy="937.7"/><circle class="n" cx="111.7" cy="948"/><circle class="n" cx="109.3" cy="960.3"/><circle class="n" cx="100.7" cy="974.3"/><circle class="n" cx="101.7" cy="983.3"/><circle class="n" cx="97.3" cy="993.7"/><circle class="n" cx="101.3" cy="1008.7"/><circle class="n" cx="116" cy="1023.3"/><circle class="n" cx="129.7" cy="1033.7"/><circle class="n" cx="146" cy="1033.7"/><circle class="n" cx="159.7" cy="1026.7"/><circle class="n" cx="163.7" cy="1012"/><circle class="n" cx="159.3" cy="994"/><circle class="n" cx="150.3" cy="979.7"/><circle class="n" cx="136" cy="971.7"/><circle class="n" cx="120" cy="972.3"/></g>
<g id="nodes-c-7"><circle class="n" cx="316.7" cy="902.3"/><circle class="n" cx="330.3" cy="897"/><circle class="n" cx="344.3" cy="893.7"/><circle class="n" cx="358" cy="888.3"/><circle class="n" cx="372" cy="887.3"/><circle class="n" cx="389.3" cy="885"/><circle class="n" cx="404" cy="880"/><circle class="n" cx="414.7" cy="880.7"/><circle class="n" cx="415.7" cy="894.3"/><circle class="n" cx="412.3" cy="910"/><circle class="n" cx="401.3" cy="928"/><circle class="n" cx="392" cy="942.7"/><circle class="n" cx="383" cy="957.3"/><circle class="n" cx="374" cy="974.7"/><circle class="n" cx="365.3" cy="988"/><circle class="n" cx="356.7" cy="1000.3"/><circle class="n" cx="345.3" cy="1018.3"/><circle class="n" cx="338.3" cy="1033"/></g>
<g id="nodes-c-8"><circle class="n" cx="538.4" cy="1034"/><circle class="n" cx="555.4" cy="1031"/><circle class="n" cx="571.2" cy="1011.7"/><circle class="n" cx="573.5" cy="985.3"/><circle class="n" cx="573.2" cy="966"/><circle class="n" cx="570" cy="948"/><circle class="n" cx="589" cy="951.3"/><circle class="n" cx="610.3" cy="934"/><circle class="n" cx="625.3" cy="913.7"/><circle class="n" cx="619.8" cy="889.3"/><circle class="n" cx="604.4" cy="877.7"/><circle class="n" cx="585" cy="881.7"/><circle class="n" cx="568" cy="899.7"/><circle class="n" cx="566" cy="924"/><circle class="n" cx="558.9" cy="983.7"/><circle class="n" cx="540.3" cy="999"/><circle class="n" cx="531.6" cy="1015.7"/></g>
<g id="nodes-c-9"><circle class="n" cx="821.1" cy="1032.7"/><circle class="n" cx="827.8" cy="1019.7"/><circle class="n" cx="831" cy="1000"/><circle class="n" cx="837.3" cy="980.7"/><circle class="n" cx="843.6" cy="963"/><circle class="n" cx="850.7" cy="948.3"/><circle class="n" cx="848.8" cy="938.7"/><circle class="n" cx="849.9" cy="928"/><circle class="n" cx="843.2" cy="911.7"/><circle class="n" cx="831.4" cy="895"/><circle class="n" cx="813.2" cy="878.7"/><circle class="n" cx="792.6" cy="878.7"/><circle class="n" cx="774" cy="887.7"/><circle class="n" cx="759" cy="902.3"/><circle class="n" cx="749.1" cy="918.7"/><circle class="n" cx="751.1" cy="938"/><circle class="n" cx="764.9" cy="952.3"/><circle class="n" cx="785.1" cy="956"/><circle class="n" cx="807.6" cy="956.3"/><circle class="n" cx="825.8" cy="958.7"/></g>
<g id="nodes-c-10"><circle class="n" cx="974.9" cy="1009"/><circle class="n" cx="960.3" cy="994.3"/><circle class="n" cx="959.5" cy="970"/><circle class="n" cx="968.2" cy="947.7"/><circle class="n" cx="978.8" cy="926.7"/><circle class="n" cx="992.3" cy="906"/><circle class="n" cx="1010.9" cy="891"/><circle class="n" cx="1035" cy="886.3"/><circle class="n" cx="1062.7" cy="894.3"/><circle class="n" cx="1088.4" cy="910.7"/><circle class="n" cx="1107.4" cy="932.7"/><circle class="n" cx="1117.6" cy="960.3"/><circle class="n" cx="1115.3" cy="986"/><circle class="n" cx="1101.8" cy="1006.3"/><circle class="n" cx="1085.6" cy="1022"/><circle class="n" cx="1063.9" cy="1027.3"/><circle class="n" cx="1039.3" cy="1027.3"/><circle class="n" cx="1021.5" cy="1021.3"/><circle class="n" cx="1005.3" cy="1012.3"/><circle class="n" cx="993.8" cy="1002"/></g>

<g id="nodes-d-1"><circle class="m" cx="103" cy="1467"/><circle class="m" cx="114" cy="1439.3"/><circle class="m" cx="126" cy="1405"/><circle class="m" cx="140.3" cy="1368.3"/><circle class="m" cx="150" cy="1342.7"/><circle class="m" cx="160.7" cy="1298"/><circle class="m" cx="176" cy="1263.3"/><circle class="m" cx="194" cy="1226"/><circle class="m" cx="206.7" cy="1189"/><circle class="m" cx="235" cy="1197.3"/><circle class="m" cx="251.3" cy="1245"/><circle class="m" cx="264" cy="1281.7"/><circle class="m" cx="281.3" cy="1321.3"/><circle class="m" cx="285.7" cy="1360.3"/><circle class="m" cx="305" cy="1395.7"/><circle class="m" cx="317.3" cy="1441"/><circle class="m" cx="328.3" cy="1470"/><circle class="m" cx="250.3" cy="1371.7"/><circle class="m" cx="211.3" cy="1371"/><circle class="m" cx="167.7" cy="1367"/></g>
<g id="nodes-d-2"><circle class="m" cx="488.1" cy="1460"/><circle class="m" cx="502.9" cy="1442.3"/><circle class="m" cx="504.6" cy="1417"/><circle class="m" cx="516.8" cy="1393.7"/><circle class="m" cx="538.4" cy="1343"/><circle class="m" cx="546.2" cy="1293.7"/><circle class="m" cx="552.7" cy="1267.7"/><circle class="m" cx="562.3" cy="1227.3"/><circle class="m" cx="587.4" cy="1180"/><circle class="m" cx="614.3" cy="1175.3"/><circle class="m" cx="624.3" cy="1203"/><circle class="m" cx="633.4" cy="1243.7"/><circle class="m" cx="657.3" cy="1296.3"/><circle class="m" cx="668.1" cy="1329"/><circle class="m" cx="666.8" cy="1362.3"/><circle class="m" cx="685.9" cy="1388.7"/><circle class="m" cx="698" cy="1437.7"/><circle class="m" cx="718" cy="1458.3"/><circle class="m" cx="622.6" cy="1362.3"/><circle class="m" cx="583.5" cy="1366.7"/></g>
<g id="nodes-d-3"><circle class="m" cx="987.3" cy="1179.3"/><circle class="m" cx="996.4" cy="1204.3"/><circle class="m" cx="983.8" cy="1213.3"/><circle class="m" cx="940.9" cy="1205.7"/><circle class="m" cx="940" cy="1224.7"/><circle class="m" cx="909.2" cy="1280.3"/><circle class="m" cx="897.1" cy="1308.3"/><circle class="m" cx="893.6" cy="1336"/><circle class="m" cx="884.9" cy="1357.3"/><circle class="m" cx="1026.7" cy="1287.3"/><circle class="m" cx="1035.4" cy="1325"/><circle class="m" cx="1019.8" cy="1372.3"/><circle class="m" cx="993.3" cy="1364"/><circle class="m" cx="971.2" cy="1374"/><circle class="m" cx="947.8" cy="1380"/><circle class="m" cx="1056.2" cy="1413.7"/><circle class="m" cx="1086.6" cy="1438.3"/><circle class="m" cx="862.4" cy="1429.7"/><circle class="m" cx="848.5" cy="1450.7"/></g>
</g>
</svg>
